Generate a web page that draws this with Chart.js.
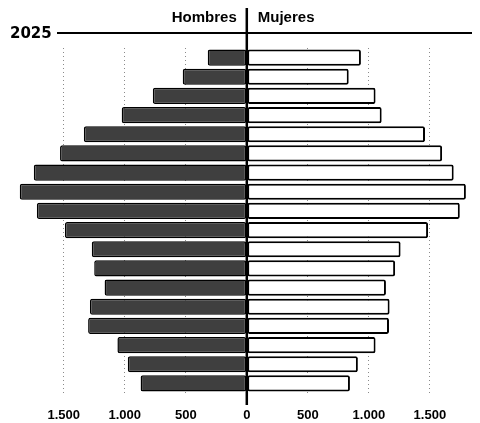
<!DOCTYPE html>
<html lang="es">
  <head>
    <meta charset="UTF-8" />
    <title>Pirámide de población 2025</title>
    <style>
      body {
        margin: 0;
        background: #fff;
      }
      .chart-container {
        position: relative;
        width: 480px;
        height: 423px;
      }
    </style>
  </head>
  <body>
    <div class="chart-container">
      <canvas id="pyramid"></canvas>
    </div>
    <script src="https://cdn.jsdelivr.net/npm/chart.js"></script>
    <script>
      // grupos de edad, de arriba (mayores) a abajo
      const ageGroups = [
        "85+", "80-84", "75-79", "70-74", "65-69", "60-64", "55-59", "50-54", "45-49",
        "40-44", "35-39", "30-34", "25-29", "20-24", "15-19", "10-14", "5-9", "0-4",
      ];
      const hombres = [320, 525, 770, 1025, 1335, 1530, 1745, 1860, 1720, 1490, 1270, 1250, 1165, 1285, 1300, 1060, 975, 870];
      const mujeres = [935, 835, 1055, 1105, 1460, 1600, 1695, 1795, 1745, 1485, 1260, 1215, 1140, 1170, 1165, 1055, 910, 845];
      const xTicks = [-1500, -1000, -500, 0, 500, 1000, 1500];
      const yearLabel = "2025";
      const menLabel = "Hombres";
      const womenLabel = "Mujeres";

      function fmt(v) {
        return String(Math.abs(v)).replace(/\B(?=(\d{3})+(?!\d))/g, ".");
      }

      const headerPlugin = {
        id: "header",
        afterDatasetsDraw(chart) {
          const ctx = chart.ctx;
          const x0 = chart.scales.x.getPixelForValue(0);
          ctx.save();
          ctx.strokeStyle = "#000";
          // línea central
          ctx.lineWidth = 2.5;
          ctx.beginPath();
          ctx.moveTo(x0, 8);
          ctx.lineTo(x0, 405);
          ctx.stroke();
          // línea del año
          ctx.lineWidth = 2;
          ctx.beginPath();
          ctx.moveTo(57, 33);
          ctx.lineTo(472, 33);
          ctx.stroke();
          ctx.fillStyle = "#000";
          ctx.textBaseline = "alphabetic";
          ctx.font = "bold 15px 'DejaVu Sans'";
          ctx.textAlign = "left";
          ctx.fillText(yearLabel, 10, 38);
          ctx.font = "bold 15px 'Liberation Sans', Arial";
          ctx.textAlign = "right";
          ctx.fillText(menLabel, x0 - 10, 22);
          ctx.textAlign = "left";
          ctx.fillText(womenLabel, x0 + 11, 22);
          ctx.restore();
        },
      };

      new Chart(document.getElementById("pyramid"), {
        type: "bar",
        data: {
          labels: ageGroups,
          datasets: [
            {
              label: menLabel,
              data: hombres.map((v) => -v),
              backgroundColor: "#3f3f3f",
              borderColor: "#000",
              borderWidth: 1.5,
              borderSkipped: false,
              borderRadius: 2,
            },
            {
              label: womenLabel,
              data: mujeres,
              backgroundColor: "#fff",
              borderColor: "#000",
              borderWidth: 2,
              borderSkipped: false,
              borderRadius: 2,
            },
          ],
        },
        options: {
          indexAxis: "y",
          responsive: true,
          maintainAspectRatio: false,
          animation: false,
          layout: { padding: { left: 10, right: 8, top: 48, bottom: 0 } },
          plugins: {
            legend: { display: false },
            tooltip: { enabled: false },
          },
          datasets: {
            bar: { barPercentage: 0.84, categoryPercentage: 1 },
          },
          scales: {
            x: {
              stacked: true,
              min: -1940,
              max: 1845,
              afterBuildTicks: (axis) => {
                axis.ticks = xTicks.map((v) => ({ value: v }));
              },
              afterFit: (axis) => {
                axis.height = 30;
              },
              ticks: {
                callback: (v) => fmt(v),
                color: "#000",
                padding: 15,
                maxRotation: 0,
                autoSkip: false,
                font: { family: "'Liberation Sans', Arial", size: 13, weight: "bold" },
              },
              grid: {
                drawTicks: false,
                color: (c) => (c.tick && c.tick.value === 0 ? "rgba(0,0,0,0)" : "#8a8a8a"),
                lineWidth: 1,
              },
              border: { display: false, dash: [1, 3] },
            },
            y: {
              stacked: true,
              display: false,
            },
          },
        },
        plugins: [headerPlugin],
      });
    </script>
  </body>
</html>
